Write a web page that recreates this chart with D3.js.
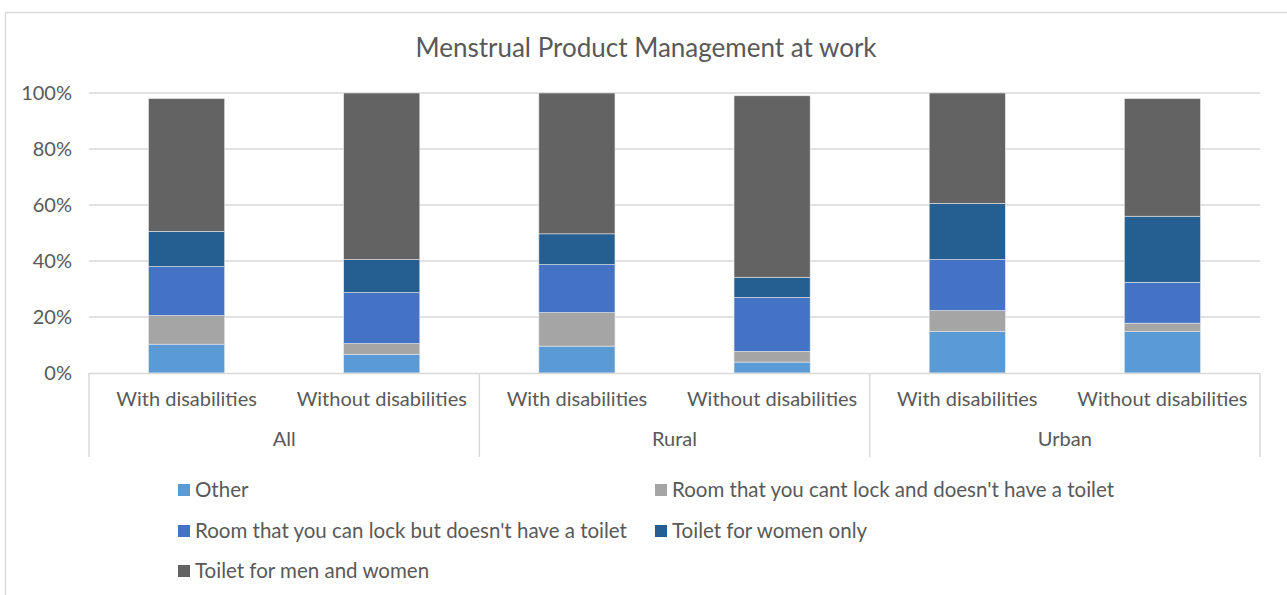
<!DOCTYPE html>
<html>
<head>
<meta charset="utf-8">
<script src="https://cdn.jsdelivr.net/npm/d3@7"></script>
<style>
  body { margin: 0; background: #fff; }
  text { font-family: Lato, "Open Sans", sans-serif; fill: #595959; }
</style>
</head>
<body>
<div id="chart"></div>
<script>
// data (percent)
var groups = ["All", "Rural", "Urban"];
var subCats = ["With disabilities", "Without disabilities"];
var seriesNames = ["Other", "Room that you cant lock and doesn't have a toilet",
    "Room that you can lock but doesn't have a toilet", "Toilet for women only",
    "Toilet for men and women"];
var seriesColors = ["#5b9bd5", "#a5a5a5", "#4472c4", "#255e91", "#636363"];
var other      = [10.3, 6.7, 9.6, 3.9, 14.9, 14.9];
var cantLock   = [10.2, 3.8, 12.0, 3.8, 7.4, 2.9];
var canLock    = [17.5, 18.2, 17.1, 19.3, 18.2, 14.6];
var womenOnly  = [12.6, 11.8, 11.0, 7.2, 20.1, 23.6];
var menWomen   = [47.4, 59.5, 50.3, 64.8, 39.4, 42.0];
var yTicks = [0, 20, 40, 60, 80, 100];

var W = 1287, H = 595;
var svg = d3.select("#chart").append("svg").attr("width", W).attr("height", H);

// chart frame
svg.append("rect").attr("x", 5.5).attr("y", 12.5).attr("width", 1300).attr("height", 700)
    .attr("fill", "none").attr("stroke", "#d9d9d9").attr("stroke-width", 1.5);

svg.append("text").attr("x", 646).attr("y", 57).attr("text-anchor", "middle")
    .style("font-size", "26px").text("Menstrual Product Management at work");

var rows = [];
groups.forEach(function(g, gi) {
    subCats.forEach(function(s, si) {
        var i = gi * 2 + si;
        rows.push({ key: g + "|" + s, group: g, sub: s, s0: other[i], s1: cantLock[i], s2: canLock[i], s3: womenOnly[i], s4: menWomen[i] });
    });
});

var plotLeft = 89, plotRight = 1260, plotTop = 93, plotBottom = 373;
var x = d3.scaleBand().domain(rows.map(function(d) { return d.key; }))
    .range([plotLeft, plotRight]).paddingInner(0.61).paddingOuter(0.305);
var y = d3.scaleLinear().domain([0, 100]).range([plotBottom, plotTop]);

// gridlines
svg.append("g").selectAll("line").data(yTicks.slice(1)).enter().append("line")
    .attr("x1", plotLeft).attr("x2", plotRight)
    .attr("y1", function(d) { return y(d); }).attr("y2", function(d) { return y(d); })
    .attr("stroke", "#d9d9d9").attr("stroke-width", 1.5);

svg.append("g").selectAll("text").data(yTicks).enter().append("text")
    .attr("x", 72).attr("y", function(d) { return y(d) + 7; })
    .attr("text-anchor", "end").style("font-size", "20px")
    .text(function(d) { return d + "%"; });

var stack = d3.stack().keys(["s0", "s1", "s2", "s3", "s4"]);
var layers = stack(rows);

svg.append("g").selectAll("g").data(layers).enter().append("g")
    .attr("fill", function(d, i) { return seriesColors[i]; })
    .selectAll("rect").data(function(d) { return d; }).enter().append("rect")
    .attr("x", function(d) { return x(d.data.key); })
    .attr("width", x.bandwidth())
    .attr("y", function(d) { return y(d[1]); })
    .attr("height", function(d) { return y(d[0]) - y(d[1]); })
    .attr("stroke", "#e6e6e6").attr("stroke-width", 0.6);

// category axis
var axisG = svg.append("g");
axisG.append("line").attr("x1", plotLeft).attr("x2", plotRight)
    .attr("y1", plotBottom + 0.5).attr("y2", plotBottom + 0.5)
    .attr("stroke", "#d9d9d9").attr("stroke-width", 1.5);
var step = (plotRight - plotLeft) / groups.length;
d3.range(groups.length + 1).forEach(function(i) {
    axisG.append("line").attr("x1", plotLeft + i * step).attr("x2", plotLeft + i * step)
        .attr("y1", plotBottom).attr("y2", 457).attr("stroke", "#d9d9d9").attr("stroke-width", 1.5);
});
axisG.selectAll("text.sub").data(rows).enter().append("text").attr("class", "sub")
    .attr("x", function(d) { return x(d.key) + x.bandwidth() / 2; })
    .attr("y", 406).attr("text-anchor", "middle").style("font-size", "20px")
    .text(function(d) { return d.sub; });
axisG.selectAll("text.grp").data(groups).enter().append("text").attr("class", "grp")
    .attr("x", function(d, i) { return plotLeft + (i + 0.5) * step; })
    .attr("y", 446).attr("text-anchor", "middle").style("font-size", "20px")
    .text(function(d) { return d; });

// legend
var legPos = [[178, 490], [655, 490], [178, 531], [655, 531], [178, 571]];
var leg = svg.append("g").selectAll("g").data(seriesNames).enter().append("g")
    .attr("transform", function(d, i) { return "translate(" + legPos[i][0] + "," + legPos[i][1] + ")"; });
leg.append("rect").attr("x", 0).attr("y", -6).attr("width", 12).attr("height", 12)
    .attr("fill", function(d, i) { return seriesColors[i]; });
leg.append("text").attr("x", 17).attr("y", 7).style("font-size", "20.5px").text(function(d) { return d; });
</script>
</body>
</html>
